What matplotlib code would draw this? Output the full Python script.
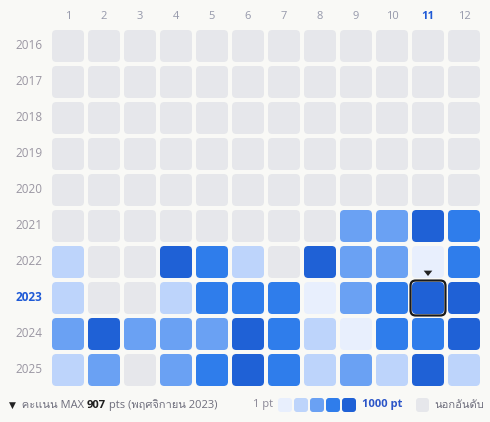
import matplotlib
matplotlib.use("Agg")
import matplotlib.pyplot as plt
from matplotlib import font_manager, ft2font
from matplotlib.patches import FancyBboxPatch, Polygon

months = [str(m) for m in range(1, 13)]
years = [str(y) for y in range(2016, 2026)]

# level per month (0 = out of ranking, 1..5 = light..dark)
levels = {
    "2016": [0] * 12,
    "2017": [0] * 12,
    "2018": [0] * 12,
    "2019": [0] * 12,
    "2020": [0] * 12,
    "2021": [0, 0, 0, 0, 0, 0, 0, 0, 3, 3, 5, 4],
    "2022": [2, 0, 0, 5, 4, 2, 0, 5, 3, 3, 1, 4],
    "2023": [2, 0, 0, 2, 4, 4, 4, 1, 3, 4, 5, 5],
    "2024": [3, 5, 3, 3, 3, 5, 4, 2, 1, 4, 4, 5],
    "2025": [2, 3, 0, 3, 4, 5, 4, 2, 3, 2, 5, 2],
}
max_year = "2023"
max_month = "11"
max_pts = 907

colors = ["#e6e7eb", "#e8effd", "#bdd4fb", "#6aa1f3", "#2f7deb", "#1f61d6"]
bg = "#f9f9f6"
blue = "#1f5ad6"


def thai_font():
    for f in font_manager.fontManager.ttflist:
        try:
            if 0x0E04 in ft2font.FT2Font(f.fname).get_charmap():
                return f.name
        except Exception:
            pass
    return "DejaVu Sans"


plt.rcParams["font.family"] = ["Open Sans", thai_font(), "DejaVu Sans"]

fig = plt.figure(figsize=(4.9, 4.22), dpi=100, facecolor=bg)
ax = fig.add_axes([0, 0, 1, 1])
ax.set_facecolor(bg)
# grid units: 36 px per cell
ax.set_xlim(-68 / 36, 422 / 36)
ax.set_ylim(376 / 36, -46 / 36)
ax.axis("off")

size = 32 / 36
for c, m in enumerate(months):
    hl = m == max_month
    ax.text(c, -0.81, m, ha="center", va="center", fontsize=8,
            color=blue if hl else "#9598aa", fontweight="bold" if hl else "normal")

for r, y in enumerate(years):
    hl = y == max_year
    ax.text(-0.72, r, y, ha="right", va="center", fontsize=8.5,
            color=blue if hl else "#9a96a2", fontweight="bold" if hl else "normal")
    for c, lv in enumerate(levels[y]):
        ax.add_patch(FancyBboxPatch((c - size / 2, r - size / 2), size, size,
                                    boxstyle="round,pad=0,rounding_size=0.12",
                                    fc=colors[lv], ec="none"))

# highlight of the max cell
mc = months.index(max_month)
mr = years.index(max_year)
hs = 36 / 36
ax.add_patch(FancyBboxPatch((mc - hs / 2 + 0.015, mr - hs / 2 + 0.015), hs - 0.03, hs - 0.03,
                            boxstyle="round,pad=0,rounding_size=0.14",
                            fc="none", ec="#1a1a1a", lw=1.6))
ax.add_patch(Polygon([[mc - 0.12, mr - 0.76], [mc + 0.12, mr - 0.76], [mc, mr - 0.61]],
                     closed=True, fc="#222222", ec="none"))

# footer
fy = 17
t = ax.annotate("▼", xy=(9, fy), xycoords="figure pixels", va="center",
                fontsize=6.5, color="#222222", family="DejaVu Sans")
parts = [("  คะแนน MAX ", "normal", "#6e6e7c"),
         (str(max_pts), "bold", "#1e1e1e"),
         (" pts (พฤศจิกายน 2023)", "normal", "#6e6e7c")]
for s, w, col in parts:
    t = ax.annotate(s, xy=(1, 0.5), xycoords=t, va="center", fontsize=8,
                    fontweight=w, color=col)

ax.annotate("1 pt", xy=(253, fy), xycoords="figure pixels", va="center",
            fontsize=8, color="#8a8796")
for i in range(1, 6):
    ax.add_patch(FancyBboxPatch((278 + 16 * (i - 1), fy - 7), 14, 14,
                                boxstyle="round,pad=0,rounding_size=3",
                                transform=None, fc=colors[i], ec="none"))
ax.annotate("1000 pt", xy=(362, fy), xycoords="figure pixels", va="center",
            fontsize=8, fontweight="bold", color="#2b55c8")
ax.add_patch(FancyBboxPatch((416, fy - 7), 13, 14,
                            boxstyle="round,pad=0,rounding_size=3",
                            transform=None, fc=colors[0], ec="none"))
ax.annotate("นอกอันดับ", xy=(434, fy), xycoords="figure pixels", va="center",
            fontsize=8, color="#6e6e7c")

fig.savefig("out.png", dpi=100, facecolor=bg)
